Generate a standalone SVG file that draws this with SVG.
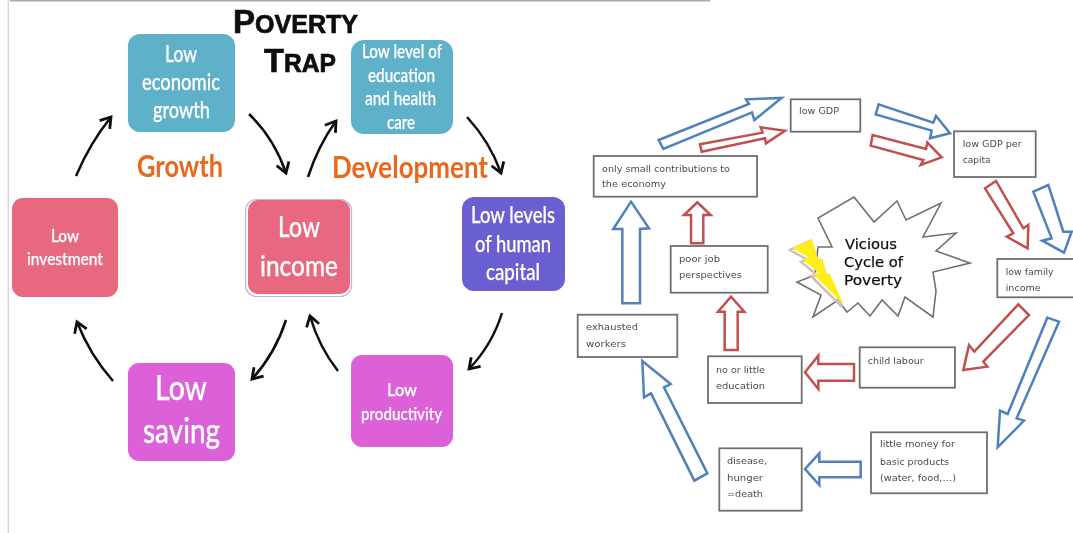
<svg xmlns="http://www.w3.org/2000/svg" width="1073" height="533" viewBox="0 0 1073 533">
<style>
.soft{filter:url(#soft)}
.l{font-family:Lato,"Noto Sans",sans-serif;font-weight:500;fill:#fff;stroke:#fff;stroke-width:.25}
.r{font-family:"DejaVu Sans","Noto Sans",sans-serif;font-size:9px;fill:#4a4a4a}
.v{font-family:"DejaVu Sans",sans-serif;font-size:14px;fill:#111;stroke:#111;stroke-width:.25}
.o{font-family:Lato,"Noto Sans",sans-serif;font-weight:700;fill:#e8691b;font-size:30px}
.t{font-family:"Liberation Sans",Arial,sans-serif;font-weight:bold;fill:#111;stroke:#111;stroke-width:.7}
.box{stroke:none}
.teal{fill:#5fb0c9}.pink{fill:#e8687f}.purple{fill:#6a5fd0}.mag{fill:#dc60d8}
.rb{fill:#fff;stroke:#6f6f6f;stroke-width:1.8}
.curve{fill:none;stroke:#111;stroke-width:2.5;marker-end:url(#open)}
.blue{fill:#fff;stroke:#4f81bd;stroke-width:7.5;stroke-linejoin:miter}
.red{fill:#fff;stroke:#c0504d;stroke-width:7.5;stroke-linejoin:miter}
</style>
<defs>
<filter id="soft" x="-2%" y="-2%" width="104%" height="104%"><feGaussianBlur stdDeviation="0.45"/></filter>
<marker id="open" markerUnits="userSpaceOnUse" markerWidth="18" markerHeight="18" refX="13" refY="9" orient="auto"><path d="M3 2.500L13 9L3 15.500" fill="none" stroke="#111" stroke-width="2.800"/></marker>
</defs>
<rect width="1073" height="533" fill="#fff"/>
<g class="soft">
<rect id="page-edge" x="7.500" y="0" width="1.500" height="533" fill="#d8d8d8"/>
<rect id="top-edge" x="10" y="0" width="700" height="1.500" fill="#aaa"/>

<g id="title"><text class="t" x="233" y="33" font-size="33" textLength="125" lengthAdjust="spacingAndGlyphs">P<tspan font-size="25">OVERTY</tspan></text>
<text class="t" x="264" y="72" font-size="33" textLength="72" lengthAdjust="spacingAndGlyphs">T<tspan font-size="25">RAP</tspan></text></g>

<g id="low-economic-growth"><rect class="box teal" x="128" y="34" width="107" height="98" rx="12"/>
<text class="l" x="165" y="62" font-size="23" textLength="32" lengthAdjust="spacingAndGlyphs">Low</text>
<text class="l" x="142" y="90" font-size="23" textLength="78" lengthAdjust="spacingAndGlyphs">economic</text>
<text class="l" x="153" y="118" font-size="23" textLength="57" lengthAdjust="spacingAndGlyphs">growth</text></g>

<g id="low-education-health"><rect class="box teal" x="351" y="40" width="102" height="94" rx="13"/>
<text class="l" x="362" y="58" font-size="19" textLength="80" lengthAdjust="spacingAndGlyphs">Low level of</text>
<text class="l" x="368" y="82" font-size="19" textLength="67" lengthAdjust="spacingAndGlyphs">education</text>
<text class="l" x="365" y="105" font-size="19" textLength="71" lengthAdjust="spacingAndGlyphs">and health</text>
<text class="l" x="387" y="129" font-size="19" textLength="28" lengthAdjust="spacingAndGlyphs">care</text></g>

<g id="label-growth"><text class="o" x="137" y="177" textLength="86" lengthAdjust="spacingAndGlyphs">Growth</text></g>
<g id="label-development"><text class="o" x="332" y="178" textLength="156" lengthAdjust="spacingAndGlyphs">Development</text></g>

<g id="low-investment"><rect class="box pink" x="12" y="198" width="106" height="99" rx="11"/>
<text class="l" x="51" y="242" font-size="18" textLength="28" lengthAdjust="spacingAndGlyphs">Low</text>
<text class="l" x="27" y="265" font-size="18" textLength="76" lengthAdjust="spacingAndGlyphs">investment</text></g>

<g id="low-income"><rect x="245.500" y="199.500" width="106" height="97" rx="11" fill="#fff" stroke="#b9b6e0" stroke-width="1.200"/><rect class="box pink" x="248" y="200" width="102" height="94" rx="10"/>
<text class="l" x="278" y="237" font-size="29" textLength="42" lengthAdjust="spacingAndGlyphs">Low</text>
<text class="l" x="260" y="276" font-size="29" textLength="78" lengthAdjust="spacingAndGlyphs">income</text></g>

<g id="low-human-capital"><rect class="box purple" x="462" y="197" width="103" height="94" rx="12"/>
<text class="l" x="471" y="223" font-size="23" textLength="84" lengthAdjust="spacingAndGlyphs">Low levels</text>
<text class="l" x="475" y="252" font-size="23" textLength="76" lengthAdjust="spacingAndGlyphs">of human</text>
<text class="l" x="486" y="280" font-size="23" textLength="54" lengthAdjust="spacingAndGlyphs">capital</text></g>

<g id="low-saving"><rect class="box mag" x="128" y="363" width="107" height="98" rx="11"/>
<text class="l" x="155" y="400" font-size="34" textLength="52" lengthAdjust="spacingAndGlyphs">Low</text>
<text class="l" x="143" y="443" font-size="34" textLength="77" lengthAdjust="spacingAndGlyphs">saving</text></g>

<g id="low-productivity"><rect class="box mag" x="351" y="355" width="102" height="92" rx="11"/>
<text class="l" x="387" y="396" font-size="18" textLength="30" lengthAdjust="spacingAndGlyphs">Low</text>
<text class="l" x="361" y="420" font-size="18" textLength="81" lengthAdjust="spacingAndGlyphs">productivity</text></g>

<g id="burst"><polygon points="854,197 874,222 897,201 906,220 941,203 923,237 956,233 936,251 970,263 933,272 936,291 933,317 905,297 898,316 882,300 870,316 858,303 847,312 838,300 813,317 821,295 797,282 815,275 818,247 832,247 818,218" fill="#fff" stroke="#6f6f6f" stroke-width="1.600"/>
<polygon points="792,248 812,239 818,259 822,258 827,274 830,274 844,305 813,274 819,273 803,260 808,257" fill="none" stroke="#cdbfbf" stroke-width="2.500" transform="translate(-2 2)"/>
<polygon points="792,248 812,239 818,259 822,258 827,274 830,274 844,305 813,274 819,273 803,260 808,257" fill="#ffee1a"/>
<text class="v" x="845" y="249" textLength="52" lengthAdjust="spacingAndGlyphs">Vicious</text>
<text class="v" x="844" y="267" textLength="59" lengthAdjust="spacingAndGlyphs">Cycle of</text>
<text class="v" x="844" y="285" textLength="58" lengthAdjust="spacingAndGlyphs">Poverty</text></g>

<g id="connectors">
<path class="curve" d="M76 176Q90 143 111 117"/>
<path class="curve" d="M249 114Q274 138 286 173"/>
<path class="curve" d="M308 177Q318 146 336 121"/>
<path class="curve" d="M467 117Q490 142 501 173"/>
<path class="curve" d="M502 313Q492 345 469 369"/>
<path class="curve" d="M286 320Q275 354 252 379"/>
<path class="curve" d="M338 371Q319 347 310 316"/>
<path class="curve" d="M113 381Q90 355 77 322"/>
<g transform="translate(570 80) scale(.33333)">
<polygon class="blue" points="266,180 537,72 528,58 635,54 553,120 546,97 280,207"/>
<polygon class="red" points="390,193 395,215 585,175 588,190 645,152 572,142 578,158"/>
<polygon class="blue" points="926,73 1090,128 1098,108 1140,160 1080,175 1085,152 917,103"/>
<polygon class="red" points="908,165 902,197 1060,240 1052,255 1115,232 1072,188 1068,207"/>
<polygon class="red" points="1245,325 1278,303 1360,445 1375,435 1373,505 1310,470 1330,460"/>
<polygon class="blue" points="1390,335 1435,315 1480,455 1505,455 1482,518 1417,482 1445,475"/>
<polygon class="blue" points="157,670 210,670 210,447 237,445 183,365 130,447 157,447"/>
<polygon class="red" points="363,490 400,490 400,405 422,405 382,367 342,405 363,405"/>
</g>
<g transform="translate(570 290) scale(.33333)">
<polygon class="red" points="464,180 503,180 503,65 523,65 483,20 444,65 464,65"/>
<polygon class="blue" points="412,550 373,572 243,310 222,322 217,213 302,282 282,292"/>
<polygon class="red" points="852,222 852,272 745,272 745,297 705,247 745,197 745,222"/>
<polygon class="red" points="1345,43 1377,75 1240,215 1252,230 1180,240 1197,165 1213,185"/>
<polygon class="blue" points="1432,83 1467,95 1340,385 1362,392 1283,472 1290,362 1313,372"/>
<polygon class="blue" points="872,515 872,562 748,562 748,585 705,537 748,490 748,515"/>
</g>
</g>

<g id="low-gdp"><rect class="rb" x="790.700" y="99.300" width="69.600" height="32.400"/><text class="r" x="799" y="114" textLength="40" lengthAdjust="spacingAndGlyphs">low GDP</text></g>
<g id="low-gdp-per-capita"><rect class="rb" x="954" y="131.300" width="81.700" height="45.700"/><text class="r" x="962.700" y="147" textLength="59" lengthAdjust="spacingAndGlyphs">low GDP per</text><text class="r" x="962.700" y="163" textLength="28" lengthAdjust="spacingAndGlyphs">capita</text></g>
<g id="small-contributions"><rect class="rb" x="593.700" y="156" width="163.300" height="40.700"/><text class="r" x="602" y="171.700" textLength="128" lengthAdjust="spacingAndGlyphs">only small contributions to</text><text class="r" x="602" y="187" textLength="64" lengthAdjust="spacingAndGlyphs">the economy</text></g>
<g id="poor-job"><rect class="rb" x="670.700" y="246" width="97" height="46.700"/><text class="r" x="679" y="261.700" textLength="41" lengthAdjust="spacingAndGlyphs">poor job</text><text class="r" x="679" y="277.700" textLength="63" lengthAdjust="spacingAndGlyphs">perspectives</text></g>
<g id="low-family-income"><rect class="rb" x="997.300" y="259" width="80" height="38.300"/><text class="r" x="1005.700" y="275" textLength="48" lengthAdjust="spacingAndGlyphs">low family</text><text class="r" x="1005.700" y="290.700" textLength="35" lengthAdjust="spacingAndGlyphs">income</text></g>
<g id="exhausted-workers"><rect class="rb" x="577.700" y="314.700" width="99.600" height="42.300"/><text class="r" x="586" y="330" textLength="52" lengthAdjust="spacingAndGlyphs">exhausted</text><text class="r" x="586" y="346.700" textLength="40" lengthAdjust="spacingAndGlyphs">workers</text></g>
<g id="no-education"><rect class="rb" x="708" y="356.300" width="93.700" height="46.700"/><text class="r" x="716" y="373.300" textLength="49" lengthAdjust="spacingAndGlyphs">no or little</text><text class="r" x="716" y="389.300" textLength="49" lengthAdjust="spacingAndGlyphs">education</text></g>
<g id="child-labour"><rect class="rb" x="859.700" y="347.300" width="95.300" height="40.400"/><text class="r" x="867.700" y="363.700" textLength="56" lengthAdjust="spacingAndGlyphs">child labour</text></g>
<g id="little-money"><rect class="rb" x="871" y="432.300" width="116" height="61"/><text class="r" x="880" y="447.300" textLength="75" lengthAdjust="spacingAndGlyphs">little money for</text><text class="r" x="880" y="464.700" textLength="69" lengthAdjust="spacingAndGlyphs">basic products</text><text class="r" x="880" y="481.300" textLength="76" lengthAdjust="spacingAndGlyphs">(water, food,…)</text></g>
<g id="disease"><rect class="rb" x="719.300" y="448.300" width="82.400" height="62.400"/><text class="r" x="727" y="464" textLength="40" lengthAdjust="spacingAndGlyphs">disease,</text><text class="r" x="727" y="481" textLength="36" lengthAdjust="spacingAndGlyphs">hunger</text><text class="r" x="727" y="497" textLength="36" lengthAdjust="spacingAndGlyphs">=death</text></g>
</g>
</svg>
